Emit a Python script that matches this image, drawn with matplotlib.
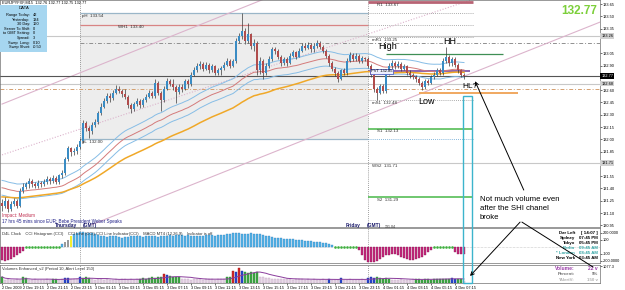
import numpy as np
import pandas as pd
import matplotlib
matplotlib.use("Agg")
import matplotlib.pyplot as plt
from matplotlib.patches import Rectangle, ConnectionPatch

plt.rcParams['font.family'] = ['Liberation Sans', 'DejaVu Sans']

W, H = 625, 290

# ---------------- data: EURJPY M15 ----------------
start_time = "2009-12-02 17:30"
first_open = 131.22
closes = [131.19, 131.25, 131.15, 131.21, 131.25, 131.19, 131.37, 131.42,
          131.45,
          131.49, 131.46, 131.43, 131.47, 131.45, 131.48, 131.52, 131.49, 131.53, 131.48, 131.56, 131.59, 131.76, 131.89, 131.84,
          131.86,
          131.91, 131.98, 132.20, 132.14, 132.10, 132.18, 132.21, 132.32, 132.40, 132.47, 132.53, 132.50, 132.57, 132.62, 132.59,
          132.55,
          132.52, 132.42, 132.37, 132.43, 132.47, 132.42, 132.48, 132.52, 132.57, 132.53, 132.69, 132.57, 132.48, 132.62, 132.71,
          132.68,
          132.64, 132.58, 132.64, 132.62, 132.71, 132.67, 132.79, 132.84, 132.89, 132.92, 132.86, 132.91, 132.84, 132.89, 132.81,
          132.84,
          132.87, 132.91, 132.96, 132.90, 132.95, 133.20, 133.26, 133.32, 133.20, 133.28, 133.14, 133.18, 132.84, 132.96, 132.81,
          132.90,
          132.98, 133.10, 133.08, 133.01, 132.93, 132.98, 132.93, 133.02, 133.06, 133.01, 133.08, 133.14, 133.12, 133.15, 133.10,
          133.14,
          133.18, 133.13, 133.08, 133.02, 132.93, 132.86, 132.81, 132.74, 132.84, 132.81, 132.96, 133.03, 132.98, 133.02, 132.96,
          132.99,
          132.98, 132.90, 132.79, 132.62, 132.57, 132.65, 132.59, 132.81, 132.89, 132.93, 132.89, 132.92, 132.86, 132.89, 132.81,
          132.78,
          132.76, 132.74, 132.69, 132.64, 132.71, 132.69, 132.76, 132.79, 132.84, 132.81, 132.96, 133.00, 132.93, 132.98, 132.91,
          132.84, 132.79, 132.77]
highs = [131.27, 131.29, 131.27, 131.25, 131.28, 131.27, 131.40, 131.47,
         131.48,
         131.53, 131.52, 131.48, 131.50, 131.49, 131.51, 131.55, 131.54, 131.56, 131.55, 131.58, 131.63, 131.79, 131.92, 131.91,
         131.89,
         131.94, 132.02, 132.24, 132.22, 132.16, 132.21, 132.25, 132.35, 132.44, 132.51, 132.57, 132.56, 132.60, 132.66, 132.65,
         132.62,
         132.61, 132.54, 132.44, 132.46, 132.50, 132.49, 132.51, 132.55, 132.60, 132.59, 132.73, 132.71, 132.59, 132.65, 132.75,
         132.74,
         132.73, 132.66, 132.67, 132.67, 132.74, 132.73, 132.82, 132.88, 132.93, 132.96, 132.94, 132.94, 132.93, 132.92, 132.91,
         132.87,
         132.90, 132.94, 132.99, 132.98, 132.98, 133.24, 133.30, 133.54, 133.36, 133.42, 133.30, 133.22, 133.20, 133.00, 132.98,
         132.93,
         133.02, 133.13, 133.13, 133.10, 133.03, 133.01, 133.00, 133.05, 133.09, 133.08, 133.11, 133.17, 133.17, 133.19, 133.17,
         133.17,
         133.21, 133.20, 133.15, 133.10, 133.04, 132.95, 132.88, 132.83, 132.86, 132.87, 132.99, 133.07, 133.05, 133.05, 133.04,
         133.02,
         133.01, 133.00, 132.92, 132.81, 132.64, 132.68, 132.67, 132.84, 132.93, 132.97, 132.95, 132.95, 132.94, 132.92, 132.91,
         132.84,
         132.81, 132.79, 132.76, 132.71, 132.74, 132.74, 132.79, 132.82, 132.87, 132.87, 132.99, 133.13, 133.03, 133.01, 133.00,
         132.93, 132.86, 132.81]
lows = [131.12, 131.16, 131.11, 131.13, 131.19, 131.16, 131.17, 131.34,
        131.39,
        131.40, 131.42, 131.40, 131.41, 131.42, 131.43, 131.46, 131.46, 131.47, 131.45, 131.46, 131.53, 131.57, 131.74, 131.80,
        131.81,
        131.82, 131.88, 131.96, 132.10, 132.02, 132.07, 132.15, 132.19, 132.30, 132.38, 132.44, 132.46, 132.48, 132.55, 132.56,
        132.52,
        132.49, 132.38, 132.32, 132.35, 132.41, 132.38, 132.40, 132.46, 132.50, 132.50, 132.51, 132.54, 132.34, 132.46, 132.60,
        132.65,
        132.60, 132.44, 132.55, 132.58, 132.60, 132.63, 132.65, 132.77, 132.82, 132.86, 132.83, 132.84, 132.81, 132.82, 132.78,
        132.78,
        132.79, 132.85, 132.89, 132.87, 132.88, 132.93, 133.17, 133.22, 133.16, 133.18, 133.10, 133.08, 132.78, 132.80, 132.74,
        132.78,
        132.87, 132.96, 133.04, 132.98, 132.90, 132.91, 132.90, 132.92, 133.00, 132.98, 133.00, 133.06, 133.09, 133.10, 133.07,
        133.07,
        133.11, 133.10, 133.05, 132.99, 132.90, 132.83, 132.77, 132.70, 132.72, 132.78, 132.79, 132.94, 132.95, 132.96, 132.93,
        132.93,
        132.95, 132.87, 132.76, 132.58, 132.48, 132.55, 132.56, 132.57, 132.79, 132.86, 132.86, 132.87, 132.83, 132.84, 132.78,
        132.75,
        132.73, 132.70, 132.66, 132.60, 132.62, 132.66, 132.67, 132.73, 132.77, 132.78, 132.79, 132.93, 132.90, 132.90, 132.88,
        132.81, 132.76, 132.74]

ma_seed = 131.42      # envelope MA at the left edge
slow_seed = 131.30    # slow MA at the left edge
envelope = 0.09

prev_high, prev_low = 133.54, 132.00
week_h1 = 133.40
r1, mr1, ms1, s1, ws2, s2 = 133.67, 133.25, 132.48, 132.13, 131.71, 131.29
pvt = 132.83
high_level = 133.04
low_level = 132.56
last_price = 132.77
grey_levels = [133.26, 132.68, 131.71]
dashdot_level = 133.18
orange_dashdot = 132.61

channel_hi = [(0, 132.43), (90, 133.75)]
channel_mid = [(0, 131.81), (158, 133.72)]
channel_lo = [(30, 130.96), (200, 133.44)]

cci = [-190, -200, -185, -170, -150, -120, -90, -60,
       -20, -10, -5, 0, 5, -5, 0, 5, 10, 0, -5, 10,
       40, 70, 100, 150,
       190, 205, 215, 210, 200, 205, 195, 185,
       170, 160, 150, 145, 150, 155, 150, 140, 135, 140, 145, 150, 150, 155, 150, 145, 150, 155, 160, 150, 145, 150, 155, 160, 165,
       160, 165, 170, 165, 160, 165, 160, 155, 150, 155, 160, 165, 170, 165, 160, 165, 170, 175, 180,
       190, 195, 200, 195, 190, 185, 190, 195, 190, 185, 180,
       170, 160, 150, 140, 135, 130, 125, 120, 115, 110, 110, 105, 100, 95, 90, 85, 80,
       75, 70, 65, 60, 50, 45, 35,
       20, 10, 5, 0, -5, 5, 10, 0,
       -40, -120, -190, -210, -215, -220, -200, -170, -140,
       -120, -110, -100, -105, -120, -140,
       -160, -175, -185, -180, -170, -160, -140, -110,
       -70, -40, -20, -10, -5,
       5, 15, 25, 10,
       -70, -95, -105, -100]
cci_special = {21: '#9a9a9a', 22: '#9a9a9a', 23: '#f2ee30'}

volume = [90, 50, 55, 45, 50, 55, 50, 80, 75, 50, 45, 55, 50, 45, 50, 55, 50, 60, 55, 50, 55, 70, 75, 55, 60, 55, 90,
          75, 80, 70, 55, 50, 55, 60, 50, 55, 50, 45, 55, 50, 55, 60, 50, 55, 50, 55,
          65, 70, 60, 75, 80, 70, 85, 90, 130, 110, 100, 90, 85, 80,
          55, 60, 55, 50, 55, 60, 55, 50, 55, 60, 55, 50, 55, 60, 55,
          80, 90, 170, 160, 215, 170, 160, 150, 155, 150, 160,
          90, 80, 75, 70, 65, 60, 65, 60, 55, 60, 55, 50, 55, 60, 55, 50, 55, 50, 55, 50,
          50, 55, 50, 60, 50, 45, 50, 70, 45, 50, 55, 50, 45, 50, 55, 50,
          70, 80, 75, 80, 70, 65, 75, 60, 50, 45, 50, 55, 50, 45, 50, 55,
          55, 60, 50, 55, 60, 50, 55, 60, 65, 55, 60, 65, 70, 65, 60, 55, 22]
vol_kind = list("g" "nnnnnn" "gg" "nnnnnnnn" "gg" "nn" "bb" "nnn" "b" "ggg" + "n" * 16 + "g" * 8 + "rb" "gggg"
                + "n" * 15 + "gg" "r" "brb" "ggggg" + "n" * 20 + "nnn" "b" "nnn" "b" + "n" * 8 + "bbb" "ggggg"
                + "n" * 8 + "g" * 12 + "bb" "gg" "n")

# ---------------- figure ----------------
times = pd.date_range(start_time, periods=len(closes), freq="15min")
n = len(closes)
idx = np.arange(n)
c = np.array(closes)
o = np.r_[first_open, c[:-1]]
hi = np.maximum(highs, np.maximum(o, c))
lo = np.minimum(lows, np.minimum(o, c))
day_starts = [j for j, t in enumerate(times) if t.hour == 0 and t.minute == 0]
thu, fri = day_starts[0], day_starts[1]
zone_end = 157
xmin, xmax = -0.67, 199.33

fig = plt.figure(figsize=(W / 100, H / 100), dpi=100)
ax = fig.add_axes([0, 1 - 227 / H, 600 / W, 227 / H])
ax_cci = fig.add_axes([0, 1 - 263 / H, 600 / W, 35 / H])
ax_vol = fig.add_axes([0, 1 - 283 / H, 600 / W, 18 / H])

for a in (ax, ax_cci, ax_vol):
    a.set_xlim(xmin, xmax)
    for s in a.spines.values():
        s.set_linewidth(0.5)
        s.set_color('#707070')
    a.yaxis.tick_right()
    a.tick_params(axis='y', labelsize=2.8, length=1.5, width=0.4, pad=0.6)
    a.axvline(thu, color='#808080', lw=0.6, ls=(0, (1, 1.5)), zorder=1)
    a.axvline(fri, color='#808080', lw=0.6, ls=(0, (1, 1.5)), zorder=1)
ax.set_xticks([])
ax_cci.set_xticks([])

box_levels = grey_levels + [last_price]
ax.set_ylim(130.93, 133.70)
yt = [t for t in np.arange(130.95, 133.70, 0.15) if min(abs(t - b) for b in box_levels) > 0.06]
ax.set_yticks(yt)
ax.yaxis.set_major_formatter(plt.FormatStrFormatter('%.2f'))

# previous day box
ax.add_patch(Rectangle((thu, prev_low), fri - thu, prev_high - prev_low, facecolor='#ededed', edgecolor='none', zorder=0))
ax.hlines([prev_high, prev_low], thu, fri, color='#9ab6c8', lw=0.9, zorder=1)
ax.hlines(week_h1, thu, fri, color='#d88484', lw=0.9, zorder=1)

# full width levels
for g in grey_levels:
    ax.axhline(g, color='#c8c8c8', lw=0.8, zorder=1)
    ax.text(1.002, g, f"{g:.2f}", transform=ax.get_yaxis_transform(), fontsize=2.8, va='center', ha='left',
            bbox=dict(boxstyle='square,pad=0.2', fc='#d0d0d0', ec='none'))
ax.hlines(dashdot_level, thu, xmax, color='#909090', lw=0.7, ls=(0, (4, 2, 1, 2)), zorder=1)
ax.axhline(orange_dashdot, color='#d4a070', lw=0.7, ls=(0, (4, 2, 1, 2)), zorder=1)
ax.axhline(last_price, color='#555555', lw=0.8, zorder=2)
ax.text(1.002, last_price, f"{last_price:.2f}", transform=ax.get_yaxis_transform(), fontsize=2.8, va='center',
        ha='left', color='white', bbox=dict(boxstyle='square,pad=0.2', fc='black', ec='none'))

# pivot zone (Friday)
ax.hlines(r1, fri, zone_end, color='#b86474', lw=2, zorder=2)
ax.hlines([prev_high, week_h1, mr1, ms1], fri, zone_end, color='#909090', lw=0.6, ls=(0, (1, 1.5)), zorder=1)
ax.hlines(prev_low, fri, zone_end, color='#5a9ed0', lw=0.6, ls=(0, (1, 1.5)), zorder=1)
ax.hlines([s1, s2], fri, zone_end, color='#48b848', lw=1.1, zorder=2)
ax.hlines(pvt, fri, zone_end - 1, color='#7a4aa0', lw=1.2, zorder=3)
ax.hlines(high_level, 128, 167, color='#3f8f55', lw=0.9, zorder=2)
ax.hlines(low_level, 139, 172, color='#f0a860', lw=1.4, zorder=2)

lab = dict(fontsize=3.2, va='top', ha='left', color='#303030', zorder=6)
ax.text(thu + 0.7, prev_high - 0.01, "pH  133.54", **lab)
ax.text(thu + 0.7, prev_low - 0.01, "pL  132.00", **lab)
ax.text(38.7, week_h1 - 0.01, "WH1  133.40", **lab)
ax.text(fri + 3, r1 - 0.01, "R1  133.67", **lab)
ax.text(fri + 1.3, mr1 - 0.01, "mR1  133.25", **lab)
ax.text(fri + 1.3, ms1 - 0.01, "mS1  132.48", **lab)
ax.text(fri + 3, s1 - 0.01, "S1  132.13", **lab)
ax.text(fri + 1.3, ws2 - 0.01, "WS2  131.71", **lab)
ax.text(fri + 3, s2 - 0.01, "S2  131.29", **lab)
ax.text(fri + 1, pvt, "PVT 132.85", fontsize=3, va='center', ha='left', zorder=7,
        bbox=dict(boxstyle='square,pad=0.15', fc='#eef0ff', ec='#4050c0', lw=0.5))

# channel lines
for (p0, p1), st in ((channel_hi, '-'), (channel_lo, '-'), (channel_mid, (0, (1, 1.5)))):
    ax.plot([p0[0], p1[0]], [p0[1], p1[1]], color='#dcb4cc', lw=0.8, ls=st, zorder=1)

# moving averages
mid = pd.Series([ma_seed] + closes).ewm(span=40, adjust=False).mean().values[1:]
slow = pd.Series([slow_seed] + closes).ewm(span=72, adjust=False).mean().values[1:]
ax.plot(idx, mid + envelope, color='#86bde6', lw=0.7, zorder=3)
ax.plot(idx, mid - envelope, color='#86bde6', lw=0.7, zorder=3)
ax.plot(idx, mid, color='#d47a7a', lw=0.7, zorder=3)
ax.plot(idx, slow, color='#f0a828', lw=1.1, zorder=3)

# candles
up = c >= o
ax.vlines(idx, lo, hi, color='#3a3a3a', lw=0.5, zorder=4)
ax.bar(idx, np.maximum(np.abs(c - o), 0.008), bottom=np.minimum(o, c), width=0.65,
       color=np.where(up, '#3a8cc4', '#b04c4c'), edgecolor='none', zorder=5)

# chart annotations
ax.text(125.3, 133.13, "High", fontsize=6.5, ha='left', va='center', zorder=7)
ax.text(149.3, 133.19, "HH", fontsize=6.5, ha='center', va='center', zorder=7)
ax.text(138.7, 132.46, "Low", fontsize=6.5, ha='left', va='center', zorder=7)
ax.text(153.3, 132.64, "HL?", fontsize=6, ha='left', va='center', zorder=7)
ax.annotate('', xy=(157.3, 132.74), xytext=(174.3, 131.35), annotation_clip=False,
            arrowprops=dict(arrowstyle='->', lw=0.7, color='black', mutation_scale=6))
ax.text(159.3, 131.31, "Not much volume even\nafter the SHI chanel\nbroke", fontsize=5.6,
        ha='left', va='top', linespacing=1.45, zorder=7)
ax.text(0.995, 1 - 11 / 227, "132.77", transform=ax.transAxes, fontsize=8.5, fontweight='bold',
        color='#7ccf3a', ha='right', va='center')

# bottom of main chart texts
xt = ax.get_xaxis_transform()
ax.text(2 / 600, 12 / 227, "Impact: Medium", transform=ax.transAxes, fontsize=3.3, color='#c03050',
        ha='left', va='center')
ax.text(2 / 600, 5 / 227, "17 hrs 45 mins since EUR: Bebe President Weber Speaks", transform=ax.transAxes,
        fontsize=3.3, color='#202088', ha='left', va='center')
ax.text(thu - 1, 0.005, "Thursday", transform=xt, fontsize=3.5, fontweight='bold', color='#1a1a6a',
        ha='right', va='center', zorder=8)
ax.text(thu + 1, 0.005, "(GMT)", transform=xt, fontsize=3.5, fontweight='bold', color='#1a1a6a',
        ha='left', va='center', zorder=8)
ax.text(fri - 2.5, 0.005, "Friday", transform=xt, fontsize=3.5, fontweight='bold', color='#1a1a6a',
        ha='right', va='center', zorder=8)
ax.text(fri - 0.5, 0.005, "(GMT)", transform=xt, fontsize=3.5, fontweight='bold', color='#1a1a6a',
        ha='left', va='center', zorder=8)
ax.text(fri + 5.5, 0.0, "131.04", transform=xt, fontsize=2.6, color='#303030', ha='left', va='center', zorder=8)

# ---------------- CCI / MACD panel ----------------
ax_cci.set_ylim(-229, 271)
ax_cci.set_yticks([200, 100, -100, -200])
ax_cci.set_yticklabels(['200.0000', '100', '-100', '-200.0000'])
ax_cci.axhline(0, color='#a0a0a0', lw=0.4, ls=(0, (1, 1.5)))
cv = np.array(cci)
for j, v in enumerate(cv):
    if j in cci_special:
        ax_cci.bar(j, v, width=0.8, color=cci_special[j], zorder=3)
    elif v >= 30:
        ax_cci.bar(j, v, width=0.8, color='#55b4e6', edgecolor='#2f7fbf', lw=0.25, zorder=3)
    elif v <= -30:
        ax_cci.bar(j, v, width=0.8, color='#c42a7c', edgecolor='#8a1050', lw=0.25, zorder=3)
    else:
        ax_cci.plot(j, 0, marker='s', ms=0.8, color='#40b040', zorder=3)
ax_cci.text(2 / 600, 1 - 6 / 35, "D4L Clock    CCI Histogram (CCI)    CCI Line (CCI) CCI Line Indicator(CCI)    "
            "MACD MT4 (12,26,9)    Indicator is off", transform=ax_cci.transAxes, fontsize=3, ha='left',
            va='center', color='#303030')

clock_rows = [("Dar Left", "[ 14:07 ]", '#000000'), ("Sydney", "07:45 PM", '#000000'),
              ("Tokyo", "05:45 PM", '#000000'), ("Berlin", "09:45 AM", '#2fa3a3'),
              ("* London", "08:45 AM", '#2fa3a3'), ("New York", "03:45 AM", '#000000')]
for k, (city, tm, col) in enumerate(clock_rows):
    yy = 1 - (233 + 5 * k) / H
    fig.text(575 / W, yy, city, fontsize=3.2, fontweight='bold', color=col, ha='right', va='center')
    fig.text(598 / W, yy, tm, fontsize=3.2, fontweight='bold', color=col, ha='right', va='center')

# ---------------- volume panel ----------------
ax_vol.set_ylim(0, 260)
ax_vol.set_yticks([240])
ax_vol.set_yticklabels(['1077.3'])
vcol = {'n': '#e6d8e6', 'g': '#3ea845', 'b': '#2848d0', 'r': '#d42828'}
vedge = {'n': '#c2a2c2', 'g': '#2e8a34', 'b': '#1a30a0', 'r': '#a01818'}
ax_vol.bar(idx, volume, width=0.7, color=[vcol[k] for k in vol_kind],
           edgecolor=[vedge[k] for k in vol_kind], lw=0.3, zorder=3)
vma = pd.Series(volume).rolling(10, min_periods=1).mean()
ax_vol.plot(idx, vma, color='#8a3c9c', lw=0.7, zorder=4)
ax_vol.text(2 / 600, 1 - 4 / 18, "Volumes Enhanced_v2 (Period 10, Alert Level 150)", transform=ax_vol.transAxes,
            fontsize=3, ha='left', va='center', color='#303030')
vol_rows = [("Volume:", "22 v", '#9a3ca8'), ("Percent:", "9%", '#707070'), ("*AlertV:", "150 v", '#b0b0b0')]
for k, (name, val, col) in enumerate(vol_rows):
    yy = 1 - (268 + 6 * k) / H
    fig.text(575 / W, yy, name, fontsize=3.6 if k == 0 else 3.2, fontweight='bold', color=col,
             ha='right', va='center')
    fig.text(598 / W, yy, val, fontsize=3.6 if k == 0 else 3.2, fontweight='bold', color=col,
             ha='right', va='center')

tick_idx = [0] + list(range(7, n, 8))
tick_lab = [f"{times[0].day} {times[0]:%b %Y}"] + [f"{times[j].day} {times[j]:%b %H:%M}" for j in tick_idx[1:]]
ax_vol.set_xticks(tick_idx)
ax_vol.set_xticklabels(tick_lab, fontsize=2.8, ha='left')
ax_vol.tick_params(axis='x', length=1.5, width=0.4, pad=0.8)

# top-left info
fig.text(2 / W, 1 - 2.5 / H, "EURJPYFXF,M15  132.76 132.77 132.75 132.77", fontsize=2.8, ha='left', va='center')
fig.patches.append(Rectangle((0, 1 - 52 / H), 47 / W, 47 / H, transform=fig.transFigure,
                             facecolor='#a6d6f0', edgecolor='none', zorder=5))
fig.text(24 / W, 1 - 8 / H, "DATA", fontsize=3, ha='center', va='center', zorder=6)
info_rows = [("Range Today:", "42"), ("Yesterday:", "134"), ("30 Day:", "160"), ("Server To Shift:", "0"),
             ("to GMT Setting:", "0"), ("Spread:", "3"), ("Swap  Long:", "0.10"), ("Swap Short:", "-0.50")]
for k, (name, val) in enumerate(info_rows):
    yy = 1 - (15 + 4.6 * k) / H
    fig.text(30 / W, yy, name, fontsize=2.8, ha='right', va='center', zorder=6)
    fig.text(33 / W, yy, val, fontsize=2.8, ha='left', va='center', zorder=6)

# highlight box over the last bars, through all panels
inv = fig.transFigure.inverted()
x0f, y0f = inv.transform(ax_vol.transData.transform((153.6, 0)))
x1f, y1f = inv.transform(ax.transData.transform((156.6, 132.53)))
fig.add_artist(Rectangle((x0f, y0f), x1f - x0f, y1f - y0f, transform=fig.transFigure, fill=False,
                         edgecolor='#3cb4cc', lw=1.0, zorder=9))

# arrows from the note down to the volume panel
fig.add_artist(ConnectionPatch(xyA=(172.7, 130.99), coordsA=ax.transData, xyB=(156, 101), coordsB=ax_vol.transData,
                               arrowstyle='->', lw=0.7, color='black', mutation_scale=6, zorder=10))
fig.add_artist(ConnectionPatch(xyA=(173.3, 130.99), coordsA=ax.transData, xyB=(197, 231), coordsB=ax_vol.transData,
                               arrowstyle='-', lw=0.7, color='black', zorder=10))

fig.savefig("out.png", dpi=100)
